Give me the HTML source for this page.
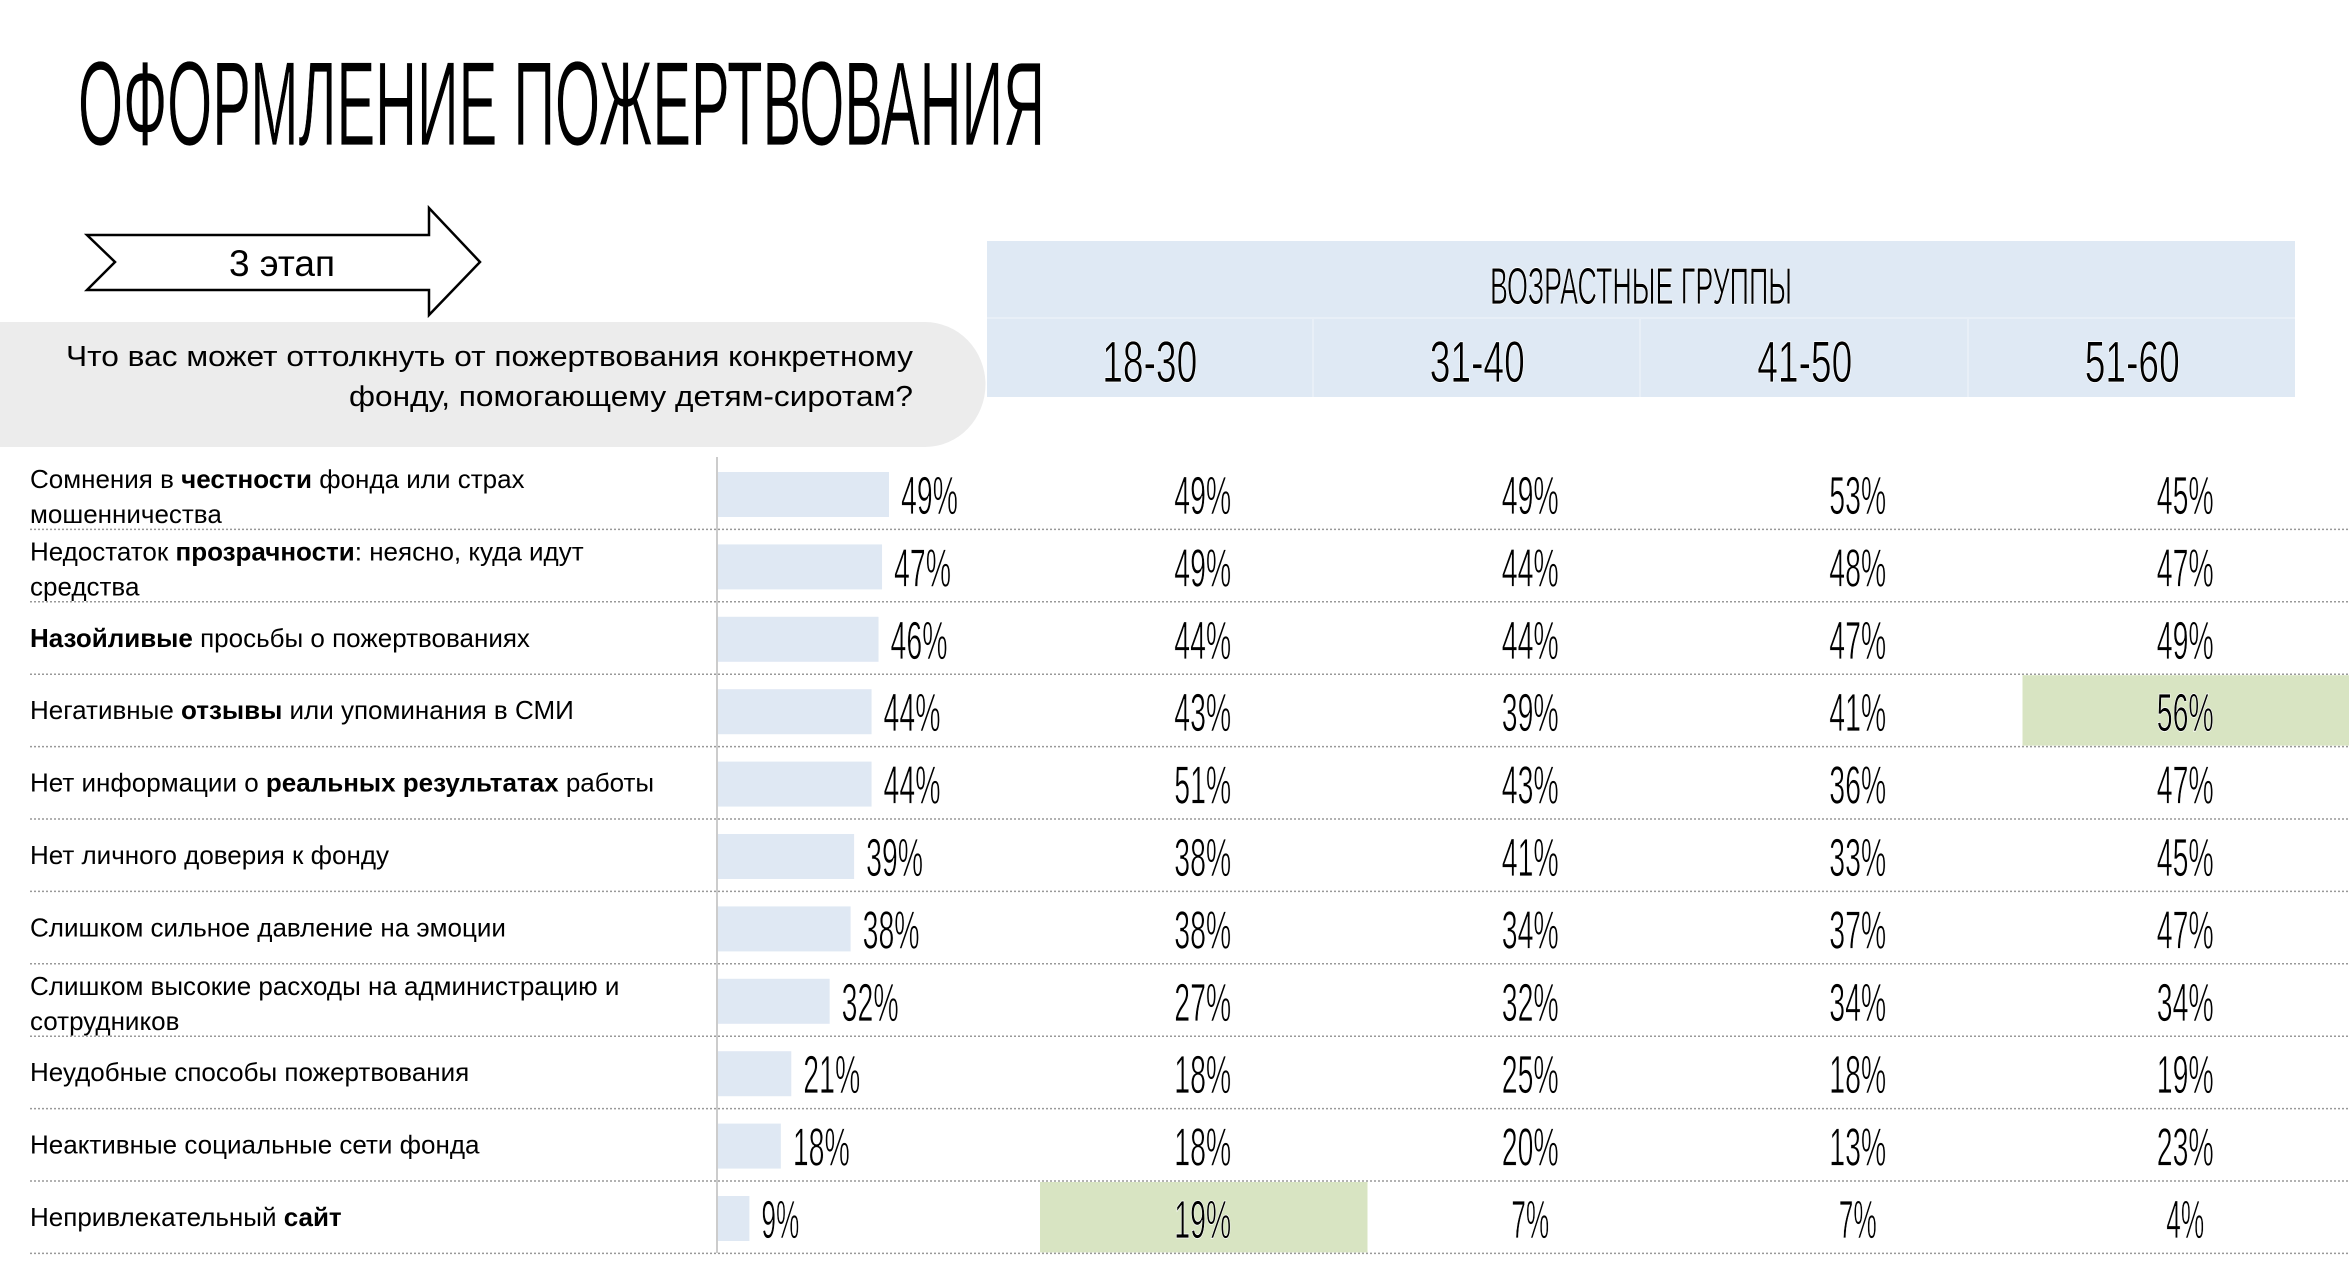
<!DOCTYPE html>
<html><head><meta charset="utf-8"><style>
html,body{margin:0;padding:0;background:#fff;}
svg{display:block;font-family:"Liberation Sans","DejaVu Sans",sans-serif;}
.thin{stroke:#fff;stroke-width:0.8px;}
</style></head><body>
<svg id="c" width="2349" height="1281" viewBox="0 0 2349 1281" xmlns="http://www.w3.org/2000/svg">
<text x="78" y="145" font-size="120" textLength="967" lengthAdjust="spacingAndGlyphs" fill="#000" class="thin">ОФОРМЛЕНИЕ ПОЖЕРТВОВАНИЯ</text>
<polygon points="87,235 429,235 429,208 480,262 429,315 429,290 87,290 115,262" fill="#fff" stroke="#000" stroke-width="2.5"/>
<text x="282" y="276" font-size="37" text-anchor="middle">3 этап</text>
<path d="M0,322 H925 A60,62 0 0 1 925,447 H0 Z" fill="#ececec"/>
<text x="913" y="366" font-size="29" text-anchor="end" textLength="847" lengthAdjust="spacingAndGlyphs">Что вас может оттолкнуть от пожертвования конкретному</text>
<text x="913" y="406" font-size="29" text-anchor="end" textLength="564" lengthAdjust="spacingAndGlyphs">фонду, помогающему детям-сиротам?</text>
<rect x="987" y="241" width="1308" height="156" fill="#dfe9f4"/>
<line x1="987" y1="318" x2="2295" y2="318" stroke="#e8eff7" stroke-width="2"/>
<line x1="1313" y1="318" x2="1313" y2="397" stroke="#e8eff7" stroke-width="2"/>
<line x1="1640" y1="318" x2="1640" y2="397" stroke="#e8eff7" stroke-width="2"/>
<line x1="1968" y1="318" x2="1968" y2="397" stroke="#e8eff7" stroke-width="2"/>
<text x="1641" y="304" font-size="52" text-anchor="middle" textLength="302" lengthAdjust="spacingAndGlyphs" class="thin">ВОЗРАСТНЫЕ ГРУППЫ</text>
<line x1="717" y1="457" x2="717" y2="1253" stroke="#ccc" stroke-width="2"/>
<g id="rows"></g>
</svg>
<script>
const labels=[
 [["Сомнения в ",0],["честности",1],[" фонда или страх",0],["|мошенничества",0]],
 [["Недостаток ",0],["прозрачности",1],[": неясно, куда идут",0],["|средства",0]],
 [["Назойливые",1],[" просьбы о пожертвованиях",0]],
 [["Негативные ",0],["отзывы",1],[" или упоминания в СМИ",0]],
 [["Нет информации о ",0],["реальных результатах",1],[" работы",0]],
 [["Нет личного доверия к фонду",0]],
 [["Слишком сильное давление на эмоции",0]],
 [["Слишком высокие расходы на администрацию и",0],["|сотрудников",0]],
 [["Неудобные способы пожертвования",0]],
 [["Неактивные социальные сети фонда",0]],
 [["Непривлекательный ",0],["сайт",1]]
];
const groups=["18-30","31-40","41-50","51-60"];
const overall=[49,47,46,44,44,39,38,32,21,18,9];
const g1830=[49,49,44,43,51,38,38,27,18,18,19];
const g3140=[49,44,44,39,43,41,34,32,25,20,7];
const g4150=[53,48,47,41,36,33,37,34,18,13,7];
const g5160=[45,47,49,56,47,45,47,34,19,23,4];
const highlights=[[3,3],[10,0]];
const series=[g1830,g3140,g4150,g5160];
const NS="http://www.w3.org/2000/svg";
const rows=document.getElementById('rows');
const rowY=i=>457+72.4*i;
const rowH=72.4;
const colX=j=>1040+327.5*j;
const colW=327.5;
const barW=v=>v*3.49;
function mk(tag,attrs,parent){const e=document.createElementNS(NS,tag);for(const k in attrs)e.setAttribute(k,attrs[k]);(parent||rows).appendChild(e);return e;}
function pct(x,y,v,anchor){
  const s=v+"%";
  const t=mk('text',{x:x,y:y,'font-size':54,'text-anchor':anchor,textLength:s.length*19,lengthAdjust:'spacingAndGlyphs',class:'thin'});
  t.textContent=s;return t;
}
highlights.forEach(h=>{
  const r=mk('rect',{x:colX(h[1]),y:rowY(h[0])+1,width:colW,height:rowH-2,fill:'#d8e4c2'});
  
  
});
groups.forEach((g,j)=>{
  const t=mk('text',{x:colX(j)+colW/2-54,y:382,'font-size':58,'text-anchor':'middle',textLength:95,lengthAdjust:'spacingAndGlyphs',class:'thin'});
  
  
  t.textContent=g;
});
labels.forEach((parts,i)=>{
  const y0=rowY(i);
  const two=parts.some(p=>p[0].startsWith('|'));
  const t=mk('text',{x:30,y:two?y0+31:y0+45,'font-size':26});
  
  
  parts.forEach(p=>{
    let s=p[0];const ts=mk('tspan',{},t);
    if(s.startsWith('|')){s=s.slice(1);ts.setAttribute('x',30);ts.setAttribute('dy',35);}
    if(p[1])ts.setAttribute('font-weight','bold');
    ts.textContent=s;
  });
  const b=mk('rect',{x:718,y:y0+15,width:barW(overall[i]),height:45,fill:'#dfe8f3'});
  
  
  const ot=pct(718+barW(overall[i])+12,y0+57,overall[i],'start');
  
  
  series.forEach((s,j)=>{
    const v=pct(colX(j)+colW/2-1,y0+57,s[i],'middle');
    
    
  });
  const l=mk('line',{x1:30,y1:y0+rowH,x2:2349,y2:y0+rowH,stroke:'#999','stroke-width':1.5,'stroke-dasharray':'2,2'});
  
  
});
</script>
</body></html>
